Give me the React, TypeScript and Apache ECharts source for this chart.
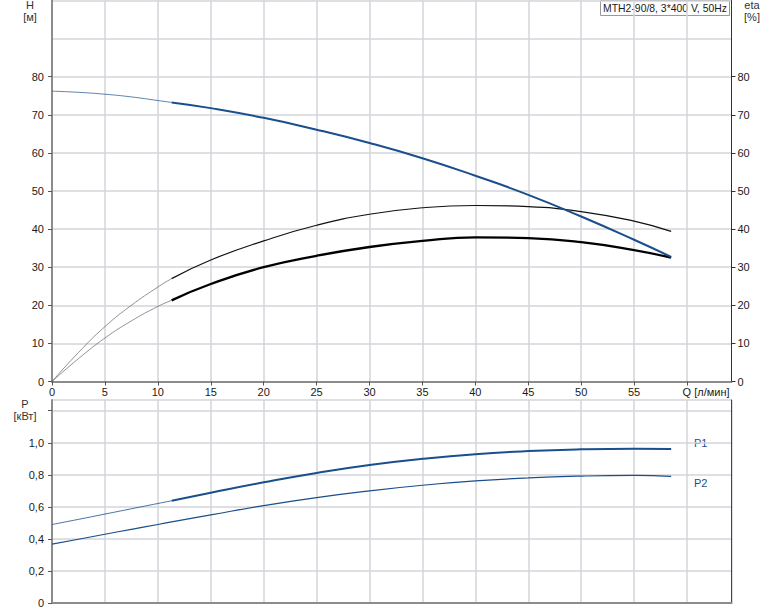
import React, { useEffect, useRef } from "react";
import * as echarts from "echarts";

// Flow rate Q [л/мин]
const Q = [0, 2.5, 5, 7.5, 10, 11.3, 15, 20, 25, 30, 35, 40, 45, 50, 55, 58.5];
// Head H [м]
const H = [76.2, 75.9, 75.4, 74.7, 73.75, 73.25, 71.75, 69.2, 66.1, 62.6, 58.6, 54.0, 49.0, 43.3, 37.2, 32.7];
// Pump efficiency eta [%]
const ETA = [0, 7.6, 14.4, 20.0, 24.8, 27.0, 31.9, 36.9, 41.0, 43.9, 45.6, 46.2, 45.9, 44.6, 42.1, 39.4];
// Total efficiency eta [%]
const ETA_TOTAL = [0, 6.0, 11.4, 15.9, 19.7, 21.3, 25.6, 30.0, 33.0, 35.3, 36.9, 37.85, 37.65, 36.6, 34.5, 32.5];
// Power P1, P2 [кВт]
const P1 = [0.49, 0.522, 0.555, 0.588, 0.621, 0.638, 0.688, 0.753, 0.812, 0.862, 0.9, 0.929, 0.948, 0.959, 0.963, 0.961];
const P2 = [0.367, 0.398, 0.429, 0.46, 0.49, 0.506, 0.55, 0.608, 0.658, 0.7, 0.735, 0.762, 0.781, 0.792, 0.796, 0.79];
const SPLIT = 5; // index where the duty range starts

const X_TICKS = [0, 5, 10, 15, 20, 25, 30, 35, 40, 45, 50, 55, 60];
const H_TICKS = [0, 10, 20, 30, 40, 50, 60, 70, 80];
const P_LABELS = [0, 0.2, 0.4, 0.6, 0.8, 1.0];
const P_TICKS = [0, 0.2, 0.4, 0.6, 0.8, 1.0, 1.2];
const TITLE = "MTH2-90/8, 3*400 V, 50Hz";

const FONT = "'Liberation Sans', Arial, sans-serif";
const BLUE = "#1a4e8c";
const GRID_LINE = { show: true, lineStyle: { color: "#d3d5d8", width: 1.5 } };

function pts(ys: number[]) {
  return Q.map((q, i) => [q, ys[i]]);
}

export default function App() {
  const ref = useRef<HTMLDivElement>(null);
  useEffect(() => {
    if (!ref.current) return;
    const chart = echarts.init(ref.current, null, { renderer: "svg" });
    const labelStyle = { color: "#1a1a1a", fontSize: 11, fontFamily: FONT };
    const line = (
      name: string,
      ys: number[],
      part: "thin" | "thick" | "all",
      xi: number,
      yi: number,
      color: string,
      width: number,
      opacity = 1
    ) => {
      const all = pts(ys);
      const data = part === "thin" ? all.slice(0, SPLIT + 1) : part === "thick" ? all.slice(SPLIT) : all;
      return {
        type: "line",
        name,
        xAxisIndex: xi,
        yAxisIndex: yi,
        data,
        smooth: 0.5,
        showSymbol: false,
        symbol: "none",
        lineStyle: { color, width, opacity },
        silent: true,
      };
    };
    const xBase = {
      type: "value",
      min: 0,
      max: 64.2,
      interval: 5,
    };
    const option = {
      animation: false,
      backgroundColor: "#fff",
      grid: [
        { left: 52, right: 42.5, top: 0.5, height: 381, outerBoundsMode: "none", containLabel: false },
        { left: 52, right: 42.5, top: 400, height: 203, outerBoundsMode: "none", containLabel: false },
      ],
      xAxis: [
        {
          ...xBase,
          gridIndex: 0,
          axisLine: { show: true, onZero: false, lineStyle: { color: "#8c8c8c", width: 2 } },
          axisTick: { show: true, length: 4, customValues: X_TICKS, lineStyle: { color: "#555" } },
          axisLabel: {
            ...labelStyle,
            margin: 5,
            customValues: X_TICKS,
            formatter: (v: number) => (v === 60 ? "{q|Q [л/мин]}" : String(v)),
            rich: { q: { ...labelStyle, padding: [0, 0, 0, 38] } },
          },
          splitLine: GRID_LINE,
        },
        {
          ...xBase,
          gridIndex: 1,
          axisLine: { show: true, onZero: false, lineStyle: { color: "#8c8c8c", width: 2 } },
          axisTick: { show: false },
          axisLabel: { show: false },
          splitLine: GRID_LINE,
        },
      ],
      yAxis: [
        {
          type: "value",
          gridIndex: 0,
          position: "left",
          min: 0,
          max: 100,
          interval: 10,
          axisLine: { show: true, lineStyle: { color: "#8c8c8c", width: 2 } },
          axisTick: { show: true, length: 4, customValues: H_TICKS, lineStyle: { color: "#555" } },
          axisLabel: { ...labelStyle, margin: 8, customValues: H_TICKS },
          splitLine: { show: false },
        },
        {
          type: "value",
          gridIndex: 0,
          position: "right",
          min: 0,
          max: 100,
          interval: 10,
          axisLine: { show: true, lineStyle: { color: "#333", width: 1 } },
          axisTick: { show: true, length: 4, customValues: H_TICKS, lineStyle: { color: "#333" } },
          axisLabel: { ...labelStyle, margin: 6, customValues: H_TICKS },
          splitLine: { show: false },
        },
        {
          type: "value",
          gridIndex: 0,
          min: 0,
          max: 100,
          interval: 10,
          axisLine: { show: false },
          axisTick: { show: false },
          axisLabel: { show: false },
          splitLine: GRID_LINE,
        },
        {
          type: "value",
          gridIndex: 1,
          position: "left",
          min: 0,
          max: 1.267,
          interval: 0.2,
          axisLine: { show: true, lineStyle: { color: "#8c8c8c", width: 2 } },
          axisTick: { show: true, length: 4, customValues: P_TICKS, lineStyle: { color: "#555" } },
          axisLabel: {
            ...labelStyle,
            margin: 8,
            customValues: P_LABELS,
            formatter: (v: number) => (v === 0 ? "0" : v.toFixed(1).replace(".", ",")),
          },
          splitLine: { show: false },
        },
        {
          type: "value",
          gridIndex: 1,
          position: "right",
          min: 0,
          max: 1.267,
          interval: 0.2,
          axisLine: { show: true, lineStyle: { color: "#444", width: 1 } },
          axisTick: { show: false },
          axisLabel: { show: false },
          splitLine: { show: false },
        },
        {
          type: "value",
          gridIndex: 1,
          min: 0,
          max: 1.267,
          interval: 0.2,
          axisLine: { show: false },
          axisTick: { show: false },
          axisLabel: { show: false },
          splitLine: GRID_LINE,
        },
      ],
      series: [
        line("eta thin", ETA, "thin", 0, 1, "#555", 0.8, 0.8),
        line("eta", ETA, "thick", 0, 1, "#111", 1.2),
        line("eta total thin", ETA_TOTAL, "thin", 0, 1, "#555", 0.8, 0.8),
        line("eta total", ETA_TOTAL, "thick", 0, 1, "#000", 2.3),
        line("H thin", H, "thin", 0, 0, BLUE, 1, 0.7),
        line("H", H, "thick", 0, 0, BLUE, 2),
        line("P1 thin", P1, "thin", 1, 3, BLUE, 1, 0.8),
        line("P1", P1, "thick", 1, 3, BLUE, 2),
        line("P2", P2, "all", 1, 3, BLUE, 1.2),
      ],
      graphic: [
        { type: "text", x: 30, y: 5, style: { text: "H", ...labelStyle, fill: "#333", align: "center", verticalAlign: "middle" } },
        { type: "text", x: 30, y: 17, style: { text: "[м]", ...labelStyle, fill: "#333", align: "center", verticalAlign: "middle" } },
        { type: "text", x: 752, y: 5, style: { text: "eta", ...labelStyle, fill: "#333", align: "center", verticalAlign: "middle" } },
        { type: "text", x: 752, y: 17, style: { text: "[%]", ...labelStyle, fill: "#333", align: "center", verticalAlign: "middle" } },
        { type: "text", x: 25, y: 404, style: { text: "P", ...labelStyle, fill: "#333", align: "center", verticalAlign: "middle" } },
        { type: "text", x: 25, y: 416, style: { text: "[кВт]", ...labelStyle, fill: "#333", align: "center", verticalAlign: "middle" } },
        { type: "text", x: 694, y: 443, style: { text: "P1", ...labelStyle, fill: BLUE, align: "left", verticalAlign: "middle" } },
        { type: "text", x: 694, y: 483, style: { text: "P2", ...labelStyle, fill: BLUE, align: "left", verticalAlign: "middle" } },
        {
          type: "group",
          z: 100,
          children: [
            { type: "rect", shape: { x: 600.5, y: 0.5, width: 129, height: 15 }, style: { fill: "#fff", stroke: "#999", lineWidth: 1 } },
            { type: "text", x: 665, y: 8.5, style: { text: TITLE, ...labelStyle, fontSize: 10.4, fill: "#1a1a1a", align: "center", verticalAlign: "middle" } },
          ],
        },
      ],
    };
    chart.setOption(option as any);
    return () => chart.dispose();
  }, []);
  return (
    <div
      ref={ref}
      style={{ position: "fixed", left: 0, top: 0, width: 774, height: 611, background: "#fff" }}
    />
  );
}
